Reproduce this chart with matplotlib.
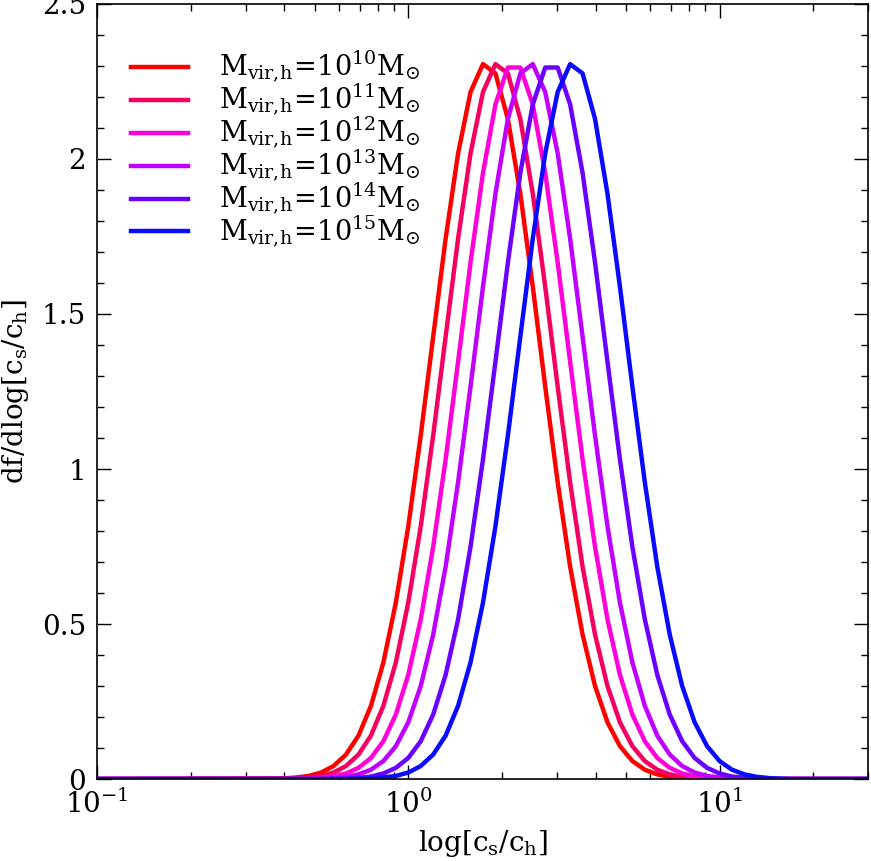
import numpy as np
import matplotlib
matplotlib.use("Agg")
import matplotlib.pyplot as plt
from matplotlib.ticker import MultipleLocator, LogLocator, NullFormatter

plt.rcParams['font.family'] = 'DejaVu Serif'
plt.rcParams['mathtext.fontset'] = 'dejavuserif'

# sample points, log10(c_s/c_h)
log_c = [-1.0,
         -0.40, -0.36, -0.32, -0.28, -0.24, -0.20, -0.16, -0.12, -0.08, -0.04,
         0.00, 0.04, 0.08, 0.12, 0.16, 0.20, 0.24, 0.28, 0.32, 0.36,
         0.40, 0.44, 0.48, 0.52, 0.56, 0.60, 0.64, 0.68, 0.72, 0.76,
         0.80, 0.84, 0.88, 0.92, 0.96, 1.00, 1.04, 1.08, 1.12, 1.16,
         1.20, 1.24, 1.28,
         1.48]

df_m10 = [0, 0.002, 0.005, 0.010, 0.021, 0.042, 0.079, 0.140, 0.236, 0.376, 0.569,
          0.815, 1.108, 1.427, 1.743, 2.018, 2.216, 2.306, 2.276, 2.129, 1.888,
          1.588, 1.266, 0.957, 0.685, 0.466, 0.300, 0.183, 0.106, 0.058, 0.030,
          0.015, 0.007, 0.003, 0.001, 0, 0, 0, 0, 0, 0, 0, 0, 0, 0]
df_m11 = [0, 0.001, 0.002, 0.005, 0.010, 0.021, 0.042, 0.079, 0.140, 0.236, 0.376,
          0.569, 0.815, 1.108, 1.427, 1.743, 2.018, 2.216, 2.306, 2.276, 2.129,
          1.888, 1.588, 1.266, 0.957, 0.685, 0.466, 0.300, 0.183, 0.106, 0.058,
          0.030, 0.015, 0.007, 0.003, 0.001, 0, 0, 0, 0, 0, 0, 0, 0, 0]
df_m12 = [0, 0, 0.001, 0.002, 0.004, 0.008, 0.018, 0.036, 0.068, 0.122, 0.208,
          0.336, 0.515, 0.749, 1.031, 1.346, 1.666, 1.955, 2.176, 2.295, 2.295,
          2.176, 1.955, 1.666, 1.346, 1.031, 0.749, 0.515, 0.336, 0.208, 0.122,
          0.068, 0.036, 0.018, 0.008, 0.004, 0.002, 0.001, 0, 0, 0, 0, 0, 0, 0]
df_m13 = [0, 0, 0, 0, 0.001, 0.003, 0.007, 0.015, 0.030, 0.058, 0.106,
          0.183, 0.300, 0.466, 0.685, 0.957, 1.266, 1.588, 1.888, 2.129, 2.276,
          2.306, 2.216, 2.018, 1.743, 1.427, 1.108, 0.815, 0.569, 0.376, 0.236,
          0.140, 0.079, 0.042, 0.021, 0.010, 0.005, 0.002, 0.001, 0, 0, 0, 0, 0, 0]
df_m14 = [0, 0, 0, 0, 0, 0.001, 0.002, 0.004, 0.008, 0.018, 0.036,
          0.068, 0.122, 0.208, 0.336, 0.515, 0.749, 1.031, 1.346, 1.666, 1.955,
          2.176, 2.295, 2.295, 2.176, 1.955, 1.666, 1.346, 1.031, 0.749, 0.515,
          0.336, 0.208, 0.122, 0.068, 0.036, 0.018, 0.008, 0.004, 0.002, 0.001,
          0, 0, 0, 0]
df_m15 = [0, 0, 0, 0, 0, 0, 0, 0.001, 0.002, 0.005, 0.010,
          0.021, 0.042, 0.079, 0.140, 0.236, 0.376, 0.569, 0.815, 1.108, 1.427,
          1.743, 2.018, 2.216, 2.306, 2.276, 2.129, 1.888, 1.588, 1.266, 0.957,
          0.685, 0.466, 0.300, 0.183, 0.106, 0.058, 0.030, 0.015, 0.007, 0.003,
          0.001, 0, 0, 0]

mass_exp = [10, 11, 12, 13, 14, 15]
colors = ['#ff0000', '#f50060', '#ff00d8', '#c000ff', '#6a00ff', '#0a0aff']

c = 10 ** np.array(log_c)
series = [df_m10, df_m11, df_m12, df_m13, df_m14, df_m15]

fig = plt.figure(figsize=(8.71, 8.61), dpi=100)
ax = fig.add_axes([0.1114, 0.0952, 0.8852, 0.9002])

for y, e, col in zip(series, mass_exp, colors):
    ax.plot(c, y, color=col, lw=3.2,
            label=r'$\rm M_{vir,\!h}\!=\!10^{%d}M_{\odot}$' % e)

ax.set_xscale('log')
ax.set_xlim(0.1, 30)
ax.set_ylim(0, 2.5)
ax.yaxis.set_minor_locator(MultipleLocator(0.1))
ax.xaxis.set_minor_locator(LogLocator(base=10, subs=np.arange(2, 10)))
ax.xaxis.set_minor_formatter(NullFormatter())
ax.set_yticks([0, 0.5, 1, 1.5, 2, 2.5])
ax.set_yticklabels(['0', '0.5', '1', '1.5', '2', '2.5'])

ax.tick_params(which='both', direction='in', top=True, right=True,
               labelsize=20, width=1)
ax.tick_params(which='major', length=10, pad=8)
ax.tick_params(which='minor', length=5)
for s in ax.spines.values():
    s.set_linewidth(1.2)

ax.set_xlabel(r'$\rm log[c_s/c_h]$', fontsize=20, labelpad=6)
ax.set_ylabel(r'$\rm df/dlog[c_s/c_h]$', fontsize=20, labelpad=8)

ax.legend(loc='upper left', frameon=False, fontsize=19.5, handlelength=2.1,
          handletextpad=1.15, labelspacing=-0.12, borderaxespad=0.3,
          bbox_to_anchor=(0.02, 0.966))

fig.savefig('out.png', dpi=100)
